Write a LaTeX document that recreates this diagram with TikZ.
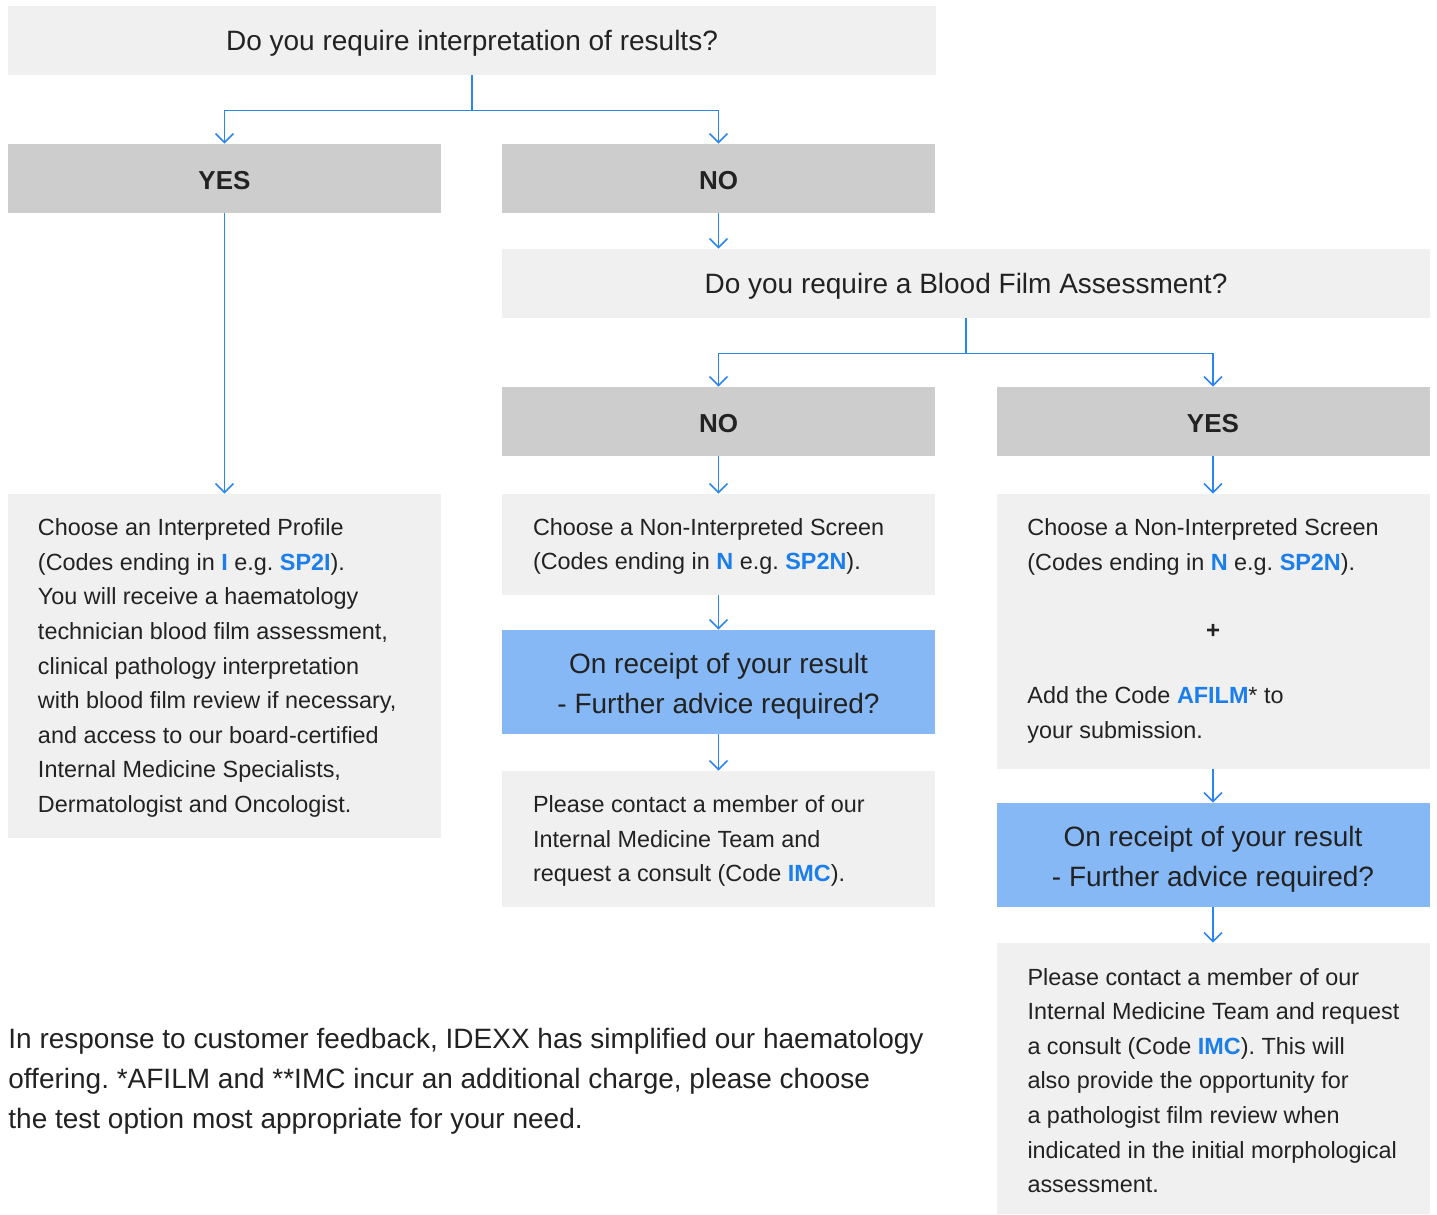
\documentclass[tikz,border=0pt]{standalone}
\usepackage{fontspec}
\setmainfont{Liberation Sans}
\usetikzlibrary{arrows.meta,calc}
\definecolor{lg}{HTML}{F0F0F0}
\definecolor{mg}{HTML}{CDCDCD}
\definecolor{bx}{HTML}{86B8F6}
\definecolor{ln}{HTML}{2A85EE}
\definecolor{bt}{HTML}{1B7EEA}
\definecolor{tx}{HTML}{222222}
\newcommand\cbl[1]{\textbf{\textcolor{bt}{#1}}}
\frenchspacing
\begin{document}
\begin{tikzpicture}[x=0.5pt,y=-0.5pt,
  box/.style={inner sep=0pt, minimum width=216.5pt, minimum height=34.5pt, fill=lg},
  hdr/.style={box, fill=mg},
  hdrtext/.style={text=tx, inner sep=0pt, font=\fontsize{13pt}{15pt}\selectfont\bfseries},
  qtext/.style={text=tx, inner sep=0pt, font=\fontsize{14pt}{20pt}\selectfont},
  body/.style={font=\fontsize{11.7pt}{17.3pt}\selectfont, align=left, inner sep=0pt, text=tx, anchor=west},
  bluebox/.style={box, fill=bx, minimum height=52pt},
  bluetext/.style={qtext, align=center},
  arr/.style={draw=ln, line width=0.75pt, -{Straight Barb[length=4.5pt,width=9pt]}}]
\useasboundingbox (0,0) rectangle (1437,1215);
% boxes
\node[box, minimum width=464pt] (top) at (472,40.5) {};
\node[hdr] (yes) at (224.5,178.5) {};
\node[hdr] (no) at (718.5,178.5) {};
\node[box, minimum width=464pt] (bf) at (966,283.5) {};
\node[hdr] (no2) at (718.5,421.5) {};
\node[hdr] (yes2) at (1213,421.5) {};
\node[box, minimum height=172pt] (left) at (224.5,666) {};
\node[box, minimum height=50.5pt] (m1) at (718.5,544.5) {};
\node[bluebox] (mb) at (718.5,682) {};
\node[box, minimum height=68pt] (m3) at (718.5,839) {};
\node[box, minimum height=137.5pt] (r1) at (1213,631.5) {};
\node[bluebox] (rb) at (1213,855) {};
\node[box, minimum height=135.5pt] (r3) at (1213,1078.5) {};
% texts
\node[qtext] (topt) at ($(top.center)+(0,3)$) {Do you require interpretation of results?};
\node[hdrtext] (yest) at ($(yes.center)+(0,2)$) {YES};
\node[hdrtext] (not) at ($(no.center)+(0,2)$) {NO};
\node[qtext] (bft) at ($(bf.center)+(0,3)$) {Do you require a Blood Film Assessment?};
\node[hdrtext] (no2t) at ($(no2.center)+(0,2)$) {NO};
\node[hdrtext] (yes2t) at ($(yes2.center)+(0,2)$) {YES};
\node[bluetext] (mbt) at ($(mb.center)+(0,4)$) {On receipt of your result\\- Further advice required?};
\node[bluetext] (rbt) at ($(rb.center)+(0,4)$) {On receipt of your result\\- Further advice required?};
\node[body] (lt) at ($(left.west)+(15pt,2)$) {Choose an Interpreted Profile\\(Codes ending in \cbl{I} e.g. \cbl{SP2I}).\\You will receive a haematology\\technician blood film assessment,\\clinical pathology interpretation\\with blood film review if necessary,\\and access to our board-certified\\Internal Medicine Specialists,\\Dermatologist and Oncologist.};
\node[body] (m1t) at ($(m1.west)+(15.5pt,2)$) {Choose a Non-Interpreted Screen\\(Codes ending in \cbl{N} e.g. \cbl{SP2N}).};
\node[body] (m3t) at ($(m3.west)+(15.5pt,2)$) {Please contact a member of our\\Internal Medicine Team and\\request a consult (Code \cbl{IMC}).};
\node[body] (r1a) at (1027,547) {Choose a Non-Interpreted Screen\\(Codes ending in \cbl{N} e.g. \cbl{SP2N}).};
\node[body, anchor=center, font=\fontsize{12pt}{14pt}\selectfont\bfseries] (plus) at (1213,631) {+};
\node[body] (r1b) at (1027,715) {Add the Code \cbl{AFILM}* to\\your submission.};
\node[body] (r3t) at ($(r3.west)+(15.5pt,2)$) {Please contact a member of our\\Internal Medicine Team and request\\a consult (Code \cbl{IMC}). This will\\also provide the opportunity for\\a pathologist film review when\\indicated in the initial morphological\\assessment.};
\node[body, font=\fontsize{14pt}{20pt}\selectfont] (note) at (8,1081) {In response to customer feedback, IDEXX has simplified our haematology\\offering. *AFILM and **IMC incur an additional charge, please choose\\the test option most appropriate for your need.};
% connectors
\draw[arr] (top.south) -- ++(0,35) -| (yes.north);
\draw[arr] (top.south) -- ++(0,35) -| (no.north);
\draw[arr] (no.south) -- (no.south |- bf.north);
\draw[arr] (bf.south) -- ++(0,35) -| (no2.north);
\draw[arr] (bf.south) -- ++(0,35) -| (yes2.north);
\draw[arr] (yes.south) -- (left.north);
\draw[arr] (no2.south) -- (m1.north);
\draw[arr] (m1.south) -- (mb.north);
\draw[arr] (mb.south) -- (m3.north);
\draw[arr] (yes2.south) -- (r1.north);
\draw[arr] (r1.south) -- (rb.north);
\draw[arr] (rb.south) -- (r3.north);
\end{tikzpicture}
\end{document}
